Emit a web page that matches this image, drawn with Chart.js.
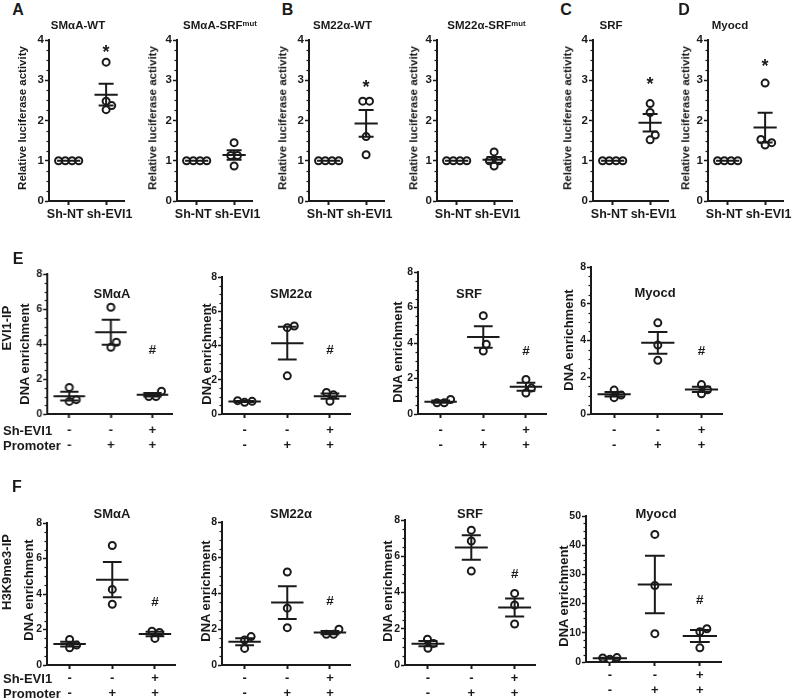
<!DOCTYPE html>
<html>
<head>
<meta charset="utf-8">
<script src="https://cdn.jsdelivr.net/npm/chart.js@4.4.1/dist/chart.umd.min.js"></script>
<style>
body { margin: 0; background: #fff; }
#fig { position: relative; width: 800px; height: 698px; overflow: hidden; font-family: "Liberation Sans", Arial, sans-serif; font-weight: bold; color: #1a1a1a; }
#fig canvas { position: absolute; }
.t { position: absolute; white-space: nowrap; line-height: 1; transform: translate(-50%, -50%); z-index: 2; }
.t.r { transform: translate(-50%, -50%) rotate(-90deg); }
.t.l { transform: translate(0, -50%); }
sup { font-size: 0.68em; vertical-align: 0.45em; line-height: 0; }
</style>
</head>
<body>
<div id="fig"></div>
<script>
const INK = "#1a1a1a";
Chart.defaults.font.family = "'Liberation Sans', Arial, sans-serif";
Chart.defaults.color = INK;

// A-D: luciferase, Sh-NT vs sh-EVI1
const lucGroups = ["Sh-NT  ", "  sh-EVI1"];
const smaWtNT = [1, 1, 1, 1];
const smaWtEVI1 = [3.45, 2.48, 2.27, 2.37];
const smaMutNT = [1, 1, 1, 1];
const smaMutEVI1 = [1.45, 1.13, 1.13, 0.87];
const sm22WtNT = [1, 1, 1, 1];
const sm22WtEVI1 = [2.48, 2.48, 1.6, 1.15];
const sm22MutNT = [1, 1, 1, 1];
const sm22MutEVI1 = [1.22, 1.0, 1.0, 0.87];
const srfNT = [1, 1, 1, 1];
const srfEVI1 = [2.42, 2.2, 1.64, 1.52];
const myocdNT = [1, 1, 1, 1];
const myocdEVI1 = [2.93, 1.53, 1.45, 1.39];
const lucStarY = [3.79, null, 2.92, null, 2.99, 3.45];

// E-F: ChIP, three conditions
const shEvi1Row = ["-", "-", "+"];
const promoterRow = ["-", "+", "+"];
const evi1SmaA = [[1.52, 0.72, 0.82], [6.1, 3.81, 4.1], [1.3, 1.0, 1.0]];
const evi1Sm22 = [[0.78, 0.68, 0.74], [5.14, 5.04, 2.23], [1.26, 1.12, 0.74]];
const evi1Srf = [[0.82, 0.63, 0.63], [5.54, 3.55, 3.93], [1.95, 1.18, 1.46]];
const evi1Myocd = [[1.3, 0.89, 1.03], [4.96, 3.75, 2.92], [1.6, 1.32, 1.1]];
const h3SmaA = [[1.44, 0.97, 1.12], [6.73, 4.26, 3.42], [1.9, 1.5, 1.83]];
const h3Sm22 = [[1.59, 1.4, 0.93], [5.2, 3.18, 2.09], [2.0, 1.72, 1.72]];
const h3Srf = [[1.42, 1.19, 0.92], [7.44, 6.84, 5.18], [3.95, 3.31, 2.26]];
const h3Myocd = [[1.5, 0.9, 1.4], [43.7, 26.2, 9.7], [11.4, 10.4, 4.84]];
const evi1HashY = [3.68, 3.74, 3.58, 3.48];
const h3HashY = [3.55, 3.59, 5.06, 21.5];

const fig = document.getElementById("fig");

function mean(a) { return a.reduce((s, v) => s + v, 0) / a.length; }
function sem(a) {
    const m = mean(a);
    const ss = a.reduce((s, v) => s + (v - m) * (v - m), 0);
    return Math.sqrt(ss / (a.length - 1)) / Math.sqrt(a.length);
}

// spread overlapping dots sideways (like a dot plot), result in x units
function swarm(vals, pxX, pxY, d) {
    const order = vals.map((v, i) => i).sort((a, b) => vals[a] - vals[b]);
    const rows = [];
    order.forEach((i) => {
        const last = rows[rows.length - 1];
        if (last && Math.abs(vals[last[0]] - vals[i]) * pxY < 0.5) last.push(i);
        else rows.push([i]);
    });
    const placed = [];
    const offs = new Array(vals.length).fill(0);
    rows.forEach((row) => {
        const y = vals[row[0]] * pxY;
        const ok = (xs) => xs.every((x) => placed.every((p) => (p.x - x) ** 2 + (p.y - y) ** 2 >= d * d - 0.01));
        let xs = [0];
        if (row.length === 1) {
            for (let t = 0; t < 40; t += 0.5) {
                if (ok([t])) { xs = [t]; break; }
                if (ok([-t])) { xs = [-t]; break; }
            }
        } else {
            for (let sp = d; sp < 4 * d; sp += 0.5) {
                xs = row.map((_, j) => (j - (row.length - 1) / 2) * sp);
                if (ok(xs)) break;
            }
        }
        row.forEach((i, j) => {
            offs[i] = xs[j] / pxX;
            placed.push({ x: xs[j], y: y });
        });
    });
    return offs;
}

const minorTicks = {
    id: "minorTicks",
    afterDraw(chart, args, opts) {
        const y = chart.scales.y;
        const ctx = chart.ctx;
        const minor = opts.step / 4;
        ctx.save();
        ctx.strokeStyle = INK;
        ctx.lineWidth = 1.2;
        for (let k = 1; k * minor < y.max - 1e-9; k++) {
            if (k % 4 === 0) continue;
            const py = Math.round(y.getPixelForValue(k * minor)) + 0.5;
            ctx.beginPath();
            ctx.moveTo(y.right - 2.5, py);
            ctx.lineTo(y.right, py);
            ctx.stroke();
        }
        ctx.restore();
    },
};

const markText = {
    id: "markText",
    afterDatasetsDraw(chart, args, opts) {
        if (opts.y == null) return;
        const ctx = chart.ctx;
        const px = chart.scales.x.getPixelForValue(opts.group);
        const py = chart.scales.y.getPixelForValue(opts.y);
        ctx.save();
        ctx.font = `bold ${opts.size}px 'Liberation Sans', Arial, sans-serif`;
        ctx.fillStyle = INK;
        ctx.textAlign = "center";
        ctx.textBaseline = "alphabetic";
        const m = ctx.measureText(opts.text);
        ctx.fillText(opts.text, px, py + (m.actualBoundingBoxAscent - m.actualBoundingBoxDescent) / 2);
        ctx.restore();
    },
};

function build(spec) {
    const isLuc = spec.kind === "luc";
    const xmin = isLuc ? 0.475 : 0.47;
    const xmax = isLuc ? 2.5 : 3.47;
    const yW = 40, padT = 8, padR = 6;
    const xH = spec.xH;
    const W = yW + spec.w + padR;
    const H = padT + (spec.by - spec.ty) + xH;
    const cv = document.createElement("canvas");
    cv.width = W;
    cv.height = H;
    cv.style.left = spec.ax - yW + "px";
    cv.style.top = spec.ty - padT + "px";
    cv.style.width = W + "px";
    cv.style.height = H + "px";
    fig.appendChild(cv);

    const pxX = spec.w / (xmax - xmin);
    const pxY = (spec.by - spec.ty) / spec.ymax;
    const mh = isLuc ? 0.31 : 0.38;
    const ch = isLuc ? 0.2 : 0.22;
    const pts = [];
    const bars = [];
    spec.data.forEach((vals, gi) => {
        const g = gi + 1;
        const offs = swarm(vals, pxX, pxY, 7.2);
        vals.forEach((v, j) => pts.push({ x: g + offs[j], y: v }));
        const m = mean(vals), s = sem(vals);
        bars.push(
            { x: g - mh, y: m }, { x: g + mh, y: m }, { x: g, y: null },
            { x: g, y: m - s }, { x: g, y: m + s }, { x: g, y: null },
            { x: g - ch, y: m + s }, { x: g + ch, y: m + s }, { x: g, y: null },
            { x: g - ch, y: m - s }, { x: g + ch, y: m - s }, { x: g, y: null }
        );
    });

    new Chart(cv, {
        type: "scatter",
        data: {
            datasets: [
                {
                    data: bars,
                    showLine: true,
                    spanGaps: false,
                    borderColor: INK,
                    borderWidth: 2,
                    pointRadius: 0,
                },
                {
                    data: pts,
                    pointRadius: 3.5,
                    borderWidth: 2,
                    borderColor: INK,
                    backgroundColor: "#fff",
                },
            ],
        },
        options: {
            responsive: false,
            animation: false,
            events: [],
            layout: { padding: { top: padT, right: padR, left: 0, bottom: 0 } },
            plugins: {
                legend: { display: false },
                tooltip: { enabled: false },
                minorTicks: { step: spec.step },
                markText: { text: isLuc ? "*" : "#", size: isLuc ? 18 : 13.5, group: spec.data.length, y: spec.mark },
            },
            scales: {
                x: {
                    type: "linear",
                    min: xmin,
                    max: xmax,
                    afterBuildTicks: (s) => { s.ticks = spec.data.map((_, i) => ({ value: i + 1 })); },
                    afterFit: (s) => { s.height = xH; },
                    ticks: {
                        autoSkip: false,
                        maxRotation: 0,
                        padding: spec.xPad,
                        color: INK,
                        font: { size: isLuc ? 12.5 : 13, weight: "bold", lineHeight: 1.15 },
                        callback: (v) => isLuc ? lucGroups[v - 1] : [shEvi1Row[v - 1], promoterRow[v - 1]],
                    },
                    grid: { drawOnChartArea: false, tickLength: 4, tickWidth: 2, tickColor: INK },
                    border: { color: INK, width: 2 },
                },
                y: {
                    min: 0,
                    max: spec.ymax,
                    afterFit: (s) => { s.width = yW; },
                    ticks: { stepSize: spec.step, padding: 1, color: INK, font: { size: isLuc ? 11.5 : 10.5, weight: "bold" } },
                    grid: { drawOnChartArea: false, tickLength: 4, tickWidth: 1.5, tickColor: INK },
                    border: { color: INK, width: 2 },
                },
            },
        },
        plugins: [minorTicks, markText],
    });
}

const lucBase = { kind: "luc", ty: 40, by: 201, w: 81, ymax: 4, step: 1, xH: 26, xPad: 2 };
const lucCharts = [
    { ax: 49, data: [smaWtNT, smaWtEVI1], mark: lucStarY[0] },
    { ax: 177, data: [smaMutNT, smaMutEVI1], mark: lucStarY[1] },
    { ax: 309, data: [sm22WtNT, sm22WtEVI1], mark: lucStarY[2] },
    { ax: 437, data: [sm22MutNT, sm22MutEVI1], mark: lucStarY[3] },
    { ax: 593, data: [srfNT, srfEVI1], mark: lucStarY[4] },
    { ax: 708, data: [myocdNT, myocdEVI1], mark: lucStarY[5] },
];
lucCharts.forEach((c) => build(Object.assign({}, lucBase, c)));

const chipE = { kind: "chip", by: 414, ymax: 8, step: 2, xH: 40, xPad: 4.5 };
const chipF = { kind: "chip", by: 665, ymax: 8, step: 2, xH: 36, xPad: 1.5 };
[
    { ax: 47, ty: 274, w: 124.5, data: evi1SmaA, mark: evi1HashY[0] },
    { ax: 222, ty: 277, w: 128, data: evi1Sm22, mark: evi1HashY[1] },
    { ax: 418, ty: 272, w: 128, data: evi1Srf, mark: evi1HashY[2] },
    { ax: 591, ty: 267, w: 131, data: evi1Myocd, mark: evi1HashY[3] },
].forEach((c) => build(Object.assign({}, chipE, c)));
[
    { ax: 47, ty: 523, w: 128, data: h3SmaA, mark: h3HashY[0] },
    { ax: 222, ty: 522, w: 128, data: h3Sm22, mark: h3HashY[1] },
    { ax: 405, ty: 520, w: 130, data: h3Srf, mark: h3HashY[2] },
    { ax: 586, ty: 516, by: 662, w: 135, ymax: 50, step: 10, data: h3Myocd, mark: h3HashY[3] },
].forEach((c) => build(Object.assign({}, chipF, c)));

// text around the plots
function label(html, x, y, size, cls) {
    const d = document.createElement("div");
    d.className = "t" + (cls ? " " + cls : "");
    d.style.left = x + "px";
    d.style.top = y + "px";
    d.style.fontSize = size + "px";
    d.innerHTML = html;
    fig.appendChild(d);
}

[["A", 18, 10], ["B", 287.5, 10], ["C", 566, 10], ["D", 684, 10], ["E", 18, 258.5], ["F", 17, 486.5]]
    .forEach(([t, x, y]) => label(t, x, y, 16));

[["SMαA-WT", 78], ["SMαA-SRF<sup>mut</sup>", 220], ["SM22α-WT", 342.5],
 ["SM22α-SRF<sup>mut</sup>", 486.5], ["SRF", 611], ["Myocd", 730]]
    .forEach(([t, x]) => label(t, x, 26, 11.5));

[23, 152.5, 283, 413.5, 567.5, 685.5].forEach((x) => label("Relative luciferase activity", x, 118, 11.5, "r"));

[["SMαA", 112, 293], ["SM22α", 291, 293], ["SRF", 469, 293], ["Myocd", 655, 292],
 ["SMαA", 112, 513], ["SM22α", 291, 513], ["SRF", 470, 513], ["Myocd", 656, 513]]
    .forEach(([t, x, y]) => label(t, x, y, 13));

[[24, 354], [206, 354], [397, 352], [567.5, 340], [28, 590], [205, 591], [387, 591], [562.5, 596]]
    .forEach(([x, y]) => label("DNA enrichment", x, y, 13, "r"));

label("EVI1-IP", 6, 328, 13, "r");
label("H3K9me3-IP", 6, 572, 13, "r");
label("Sh-EVI1", 3, 430, 13, "l");
label("Promoter", 3, 445, 13, "l");
label("Sh-EVI1", 3, 678, 13, "l");
label("Promoter", 3, 693, 13, "l");
</script>
</body>
</html>
